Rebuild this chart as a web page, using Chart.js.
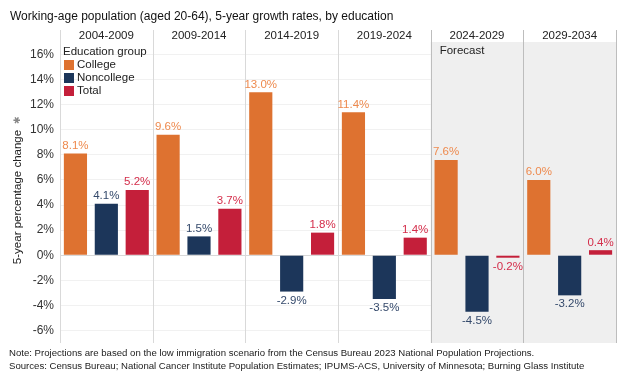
<!DOCTYPE html>
<html><head><meta charset="utf-8">
<script src="https://cdn.jsdelivr.net/npm/chart.js@4/dist/chart.umd.min.js"></script>
<style>html,body{margin:0;padding:0;background:#fff;}#wrap{width:624px;height:380px;position:relative;}</style>
</head><body><div id="wrap"><canvas id="c" width="624" height="380"></canvas></div>
<script>
const periods = ["2004-2009","2009-2014","2014-2019","2019-2024","2024-2029","2029-2034"];
const college = [8.1, 9.6, 13.0, 11.4, 7.6, 6.0];
const noncollege = [4.1, 1.5, -2.9, -3.5, -4.5, -3.2];
const total = [5.2, 3.7, 1.8, 1.4, -0.2, 0.4];
const yTicks = [-6,-4,-2,0,2,4,6,8,10,12,14,16];
const forecastPeriods = ["2024-2029","2029-2034"];
const seriesNames = ["College","Noncollege","Total"];
const titleText = "Working-age population (aged 20-64), 5-year growth rates, by education";
const yTitle = "5-year percentage change";
const notes = ["Note: Projections are based on the low immigration scenario from the Census Bureau 2023 National Population Projections.",
  "Sources: Census Bureau; National Cancer Institute Population Estimates; IPUMS-ACS, University of Minnesota; Burning Glass Institute"];

const barColors = ["#DE7230","#1C365A","#C41F3A"];
const labelColors = ["#EE8A4E","#34496B","#D42D4A"];
const FONT = "'Liberation Sans', Arial, sans-serif";

const deco = {
  id:'deco',
  beforeDatasetsDraw(chart){
    const {ctx, chartArea:a} = chart;
    const n = periods.length;
    const w = (a.right-a.left)/n;
    ctx.save();
    forecastPeriods.forEach(p=>{
      const i = periods.indexOf(p);
      ctx.fillStyle = '#efefef';
      ctx.fillRect(a.left + i*w, a.top, w, a.bottom-a.top);
    });
    ctx.restore();
  },
  afterDatasetsDraw(chart){
    const {ctx, chartArea:a} = chart;
    const n = periods.length;
    const w = (a.right-a.left)/n;
    ctx.save();
    for(let i=0;i<=n;i++){
      const px = Math.round(a.left + i*w)+0.5;
      ctx.strokeStyle = (i>=4) ? '#bdbdbd' : '#d9d9d9';
      ctx.lineWidth = 1;
      ctx.beginPath(); ctx.moveTo(px, 30); ctx.lineTo(px, a.bottom); ctx.stroke();
    }
    ctx.fillStyle = '#222';
    ctx.font = "11.5px " + FONT;
    ctx.textAlign = 'center'; ctx.textBaseline = 'middle';
    periods.forEach((p,i)=>{ ctx.fillText(p, a.left + (i+0.5)*w, 36); });
    ctx.textAlign = 'left';
    ctx.fillText("Forecast", a.left + 4*w + 9, 51);
    ctx.font = "11.5px " + FONT;
    chart.data.datasets.forEach((ds,di)=>{
      const meta = chart.getDatasetMeta(di);
      meta.data.forEach((bar,j)=>{
        const v = ds.data[j];
        const txt = v.toFixed(1) + '%';
        ctx.fillStyle = labelColors[di];
        ctx.textAlign = 'center';
        if(v>=0){ ctx.textBaseline='bottom'; ctx.fillText(txt, bar.x, bar.y-2); }
        else { ctx.textBaseline='top'; ctx.fillText(txt, bar.x, bar.y+3); }
      });
    });
    ctx.textAlign='left'; ctx.textBaseline='middle';
    ctx.fillStyle='#222'; ctx.font = "11.5px " + FONT;
    ctx.fillText("Education group", 63, 52);
    seriesNames.forEach((s,i)=>{
      const yy = 65 + i*13;
      ctx.fillStyle = barColors[i];
      ctx.fillRect(64, yy-5, 10, 10);
      ctx.fillStyle='#222';
      ctx.fillText(s, 77, yy);
    });
    ctx.restore();
  },
  afterDraw(chart){
    const {ctx} = chart;
    ctx.save();
    ctx.fillStyle='#111';
    ctx.font = "12px " + FONT;
    ctx.textAlign='left'; ctx.textBaseline='middle';
    ctx.fillText(titleText, 10, 17);
    ctx.font = "9.6px " + FONT;
    ctx.fillStyle='#222';
    ctx.fillText(notes[0], 9, 353);
    ctx.fillText(notes[1], 9, 366);
    ctx.translate(18, 197);
    ctx.rotate(-Math.PI/2);
    ctx.textAlign='center';
    ctx.font = "11.5px " + FONT;
    ctx.fillStyle='#222';
    ctx.fillText(yTitle, 0, 0);
    ctx.fillStyle='#888';
    ctx.font = "9px " + FONT;
    ctx.fillText("\u2731", 77, 0);
    ctx.restore();
  }
};

new Chart(document.getElementById('c'), {
  type:'bar',
  data:{
    labels: periods,
    datasets: [
      {label:seriesNames[0], data:college, backgroundColor:barColors[0]},
      {label:seriesNames[1], data:noncollege, backgroundColor:barColors[1]},
      {label:seriesNames[2], data:total, backgroundColor:barColors[2]}
    ]
  },
  options:{
    responsive:false, animation:false,
    layout:{padding:{top:42, bottom:37, right:8, left:0}},
    plugins:{legend:{display:false}, tooltip:{enabled:false}},
    datasets:{bar:{categoryPercentage:1.0, barPercentage:0.75}},
    scales:{
      x:{display:false},
      y:{
        min:-7, max:17,
        afterBuildTicks(s){ s.ticks = yTicks.map(v=>({value:v})); },
        afterFit(s){ s.width = 60; },
        border:{display:false},
        grid:{color:(c)=> c.tick && c.tick.value===0 ? '#d8d8d8' : '#f1f1f1', drawTicks:false},
        ticks:{padding:6, color:'#333', font:{family:FONT, size:12}, callback:(v)=> v + '%'}
      }
    }
  },
  plugins:[deco]
});
</script></body></html>
